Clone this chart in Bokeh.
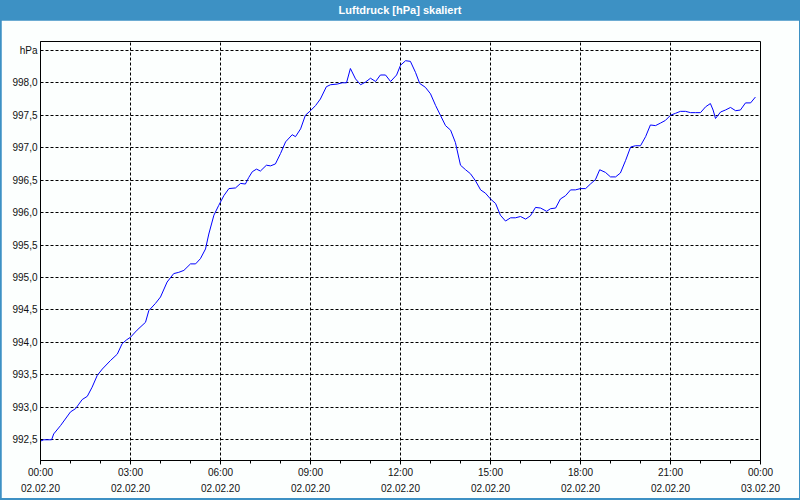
from bokeh.plotting import figure
from bokeh.models import Range1d, FixedTicker, LinearAxis, Div, Grid
from bokeh.layouts import column
from bokeh.embed import file_html
from bokeh.resources import INLINE

title_text = "Luftdruck [hPa] skaliert"

hours = [0.0, 0.11, 0.37, 0.44, 0.67, 1.0, 1.17, 1.28, 1.39, 1.56, 1.72, 1.89, 2.06, 2.33, 2.56, 2.72,
         2.87, 3.0, 3.22, 3.5, 3.61, 3.83, 4.0,
         4.22, 4.44, 4.61, 4.78, 5.0, 5.17, 5.33, 5.5, 5.61, 5.78, 5.94, 6.11, 6.28, 6.5, 6.67, 6.83,
         6.94, 7.06, 7.2, 7.33, 7.53, 7.67, 7.83, 8.0, 8.17,
         8.39, 8.5, 8.67, 8.83, 9.0, 9.17, 9.33, 9.53, 9.67, 9.89, 10.06, 10.2, 10.33, 10.5, 10.67,
         10.83, 11.0, 11.17, 11.33, 11.5, 11.67, 11.87, 12.0, 12.17, 12.33,
         12.5, 12.64, 12.83, 13.0, 13.17, 13.33, 13.5, 13.67, 13.83, 14.0, 14.17, 14.33, 14.5, 14.67,
         14.83, 15.0, 15.17, 15.33, 15.5, 15.67, 15.83, 16.0, 16.17, 16.33,
         16.5, 16.67, 16.87, 17.0, 17.17, 17.33, 17.5, 17.67, 17.83, 18.0, 18.17, 18.33, 18.5, 18.64,
         18.83, 19.0, 19.17, 19.33, 19.5, 19.67, 19.83, 20.0,
         20.17, 20.33, 20.5, 20.67, 20.83, 21.0, 21.17, 21.33, 21.5, 21.67, 21.83, 22.0, 22.17, 22.33,
         22.42, 22.5, 22.67, 22.83, 23.0, 23.17, 23.33, 23.5, 23.67, 23.83]

pressure = [992.48, 992.50, 992.50, 992.59, 992.72, 992.93, 992.98, 993.05, 993.12, 993.17, 993.31,
            993.49, 993.59, 993.72, 993.82, 993.98, 994.04, 994.08, 994.19, 994.31, 994.49, 994.60, 994.70,
            994.93, 995.06, 995.08, 995.11, 995.21, 995.21, 995.29, 995.44, 995.67, 995.96, 996.11, 996.26,
            996.37, 996.38, 996.45, 996.44, 996.54, 996.63, 996.67, 996.64, 996.73, 996.72, 996.75, 996.91,
            997.09,
            997.20, 997.17, 997.29, 997.50, 997.57, 997.65, 997.75, 997.94, 997.97, 997.98, 998.00, 998.00,
            998.22, 998.06, 997.97, 998.01, 998.07, 998.02, 998.12, 998.12, 998.02, 998.12, 998.27, 998.34,
            998.33,
            998.16, 997.99, 997.93, 997.83, 997.65, 997.50, 997.34, 997.27, 997.08, 996.73, 996.66, 996.60,
            996.49, 996.35, 996.30, 996.21, 996.14, 995.96, 995.87, 995.92, 995.92, 995.94, 995.90, 995.95,
            996.08, 996.07, 996.02, 996.06, 996.07, 996.21, 996.26, 996.35, 996.35, 996.37, 996.37, 996.44,
            996.51, 996.66, 996.62, 996.55, 996.55, 996.61, 996.80, 997.01, 997.03, 997.03,
            997.17, 997.35, 997.34, 997.38, 997.42, 997.50, 997.53, 997.56, 997.56, 997.54, 997.54, 997.54,
            997.63, 997.68, 997.58, 997.45, 997.55, 997.58, 997.62, 997.57, 997.58, 997.69, 997.69, 997.78]

x_ticks = [0, 3, 6, 9, 12, 15, 18, 21, 24]
x_time_labels = ["00:00", "03:00", "06:00", "09:00", "12:00", "15:00", "18:00", "21:00", "00:00"]
x_date_labels = ["02.02.20"] * 8 + ["03.02.20"]
x_minor = list(range(25))

y_ticks = [992.5, 993.0, 993.5, 994.0, 994.5, 995.0, 995.5, 996.0, 996.5, 997.0, 997.5, 998.0, 998.5]
y_labels = ["992,5", "993,0", "993,5", "994,0", "994,5", "995,0", "995,5", "996,0", "996,5",
            "997,0", "997,5", "998,0", "hPa"]

FONT = "Liberation Sans"
BLUE = "#3d91c4"
BG = "#fcfffe"

p = figure(width=798, height=478, output_backend="svg", toolbar_location=None,
           x_range=Range1d(0, 24), y_range=Range1d(992.181, 998.636),
           x_axis_location=None, y_axis_location=None,
           min_border_left=39, min_border_right=39, min_border_top=21, min_border_bottom=38)
p.margin = (0, 1, 2, 1)
p.background_fill_color = BG
p.border_fill_color = BG
p.outline_line_color = "black"
p.outline_line_width = 1

xt = FixedTicker(ticks=x_ticks, minor_ticks=x_minor)
yt = FixedTicker(ticks=y_ticks, minor_ticks=[])

xa = LinearAxis(ticker=xt)
xa.major_label_overrides = {t: l for t, l in zip(x_ticks, x_time_labels)}
xa.major_tick_out = 4
xa.major_tick_in = 0
xa.minor_tick_out = 3
xa.minor_tick_in = 0
xa.major_label_standoff = 2
xa.axis_line_color = "black"
xa.major_tick_line_color = "black"
xa.minor_tick_line_color = "black"
xa.major_label_text_font = FONT
xa.major_label_text_font_size = "10px"
xa.major_label_text_color = "#111111"
p.add_layout(xa, "below")

xa2 = LinearAxis(ticker=xt)
xa2.major_label_overrides = {t: l for t, l in zip(x_ticks, x_date_labels)}
xa2.major_tick_out = 0
xa2.major_tick_in = 0
xa2.minor_tick_out = 0
xa2.minor_tick_in = 0
xa2.axis_line_color = None
xa2.major_tick_line_color = None
xa2.minor_tick_line_color = None
xa2.major_label_standoff = 3
xa2.major_label_text_font = FONT
xa2.major_label_text_font_size = "10px"
xa2.major_label_text_color = "#111111"
p.add_layout(xa2, "below")

ya = LinearAxis(ticker=yt)
ya.major_label_overrides = {t: l for t, l in zip(y_ticks, y_labels)}
ya.major_tick_out = 0
ya.major_tick_in = 0
ya.minor_tick_out = 0
ya.minor_tick_in = 0
ya.major_tick_line_color = None
ya.axis_line_color = "black"
ya.major_label_standoff = 3
ya.major_label_text_font = FONT
ya.major_label_text_font_size = "10px"
ya.major_label_text_color = "#111111"
p.add_layout(ya, "left")

p.xgrid.visible = False
p.ygrid.visible = False
gx = Grid(dimension=0, ticker=xt, grid_line_color="black", grid_line_dash="3 2", grid_line_width=1)
gy = Grid(dimension=1, ticker=yt, grid_line_color="black", grid_line_dash="3 2", grid_line_width=1)
p.add_layout(gx)
p.add_layout(gy)

p.line(hours, pressure, line_color="#0000ff", line_width=1)

div = Div(text=title_text, width=800, height=20, margin=(0, 0, 0, 0),
          styles={"background-color": BLUE, "color": "white", "font-weight": "bold",
                  "font-size": "11px", "font-family": FONT, "text-align": "center",
                  "line-height": "20px", "padding": "0px"})

layout = column(div, p, styles={"background-color": BLUE}, spacing=0, margin=(0, 0, 0, 0))

open("out.html", "w").write(file_html(layout, INLINE))
